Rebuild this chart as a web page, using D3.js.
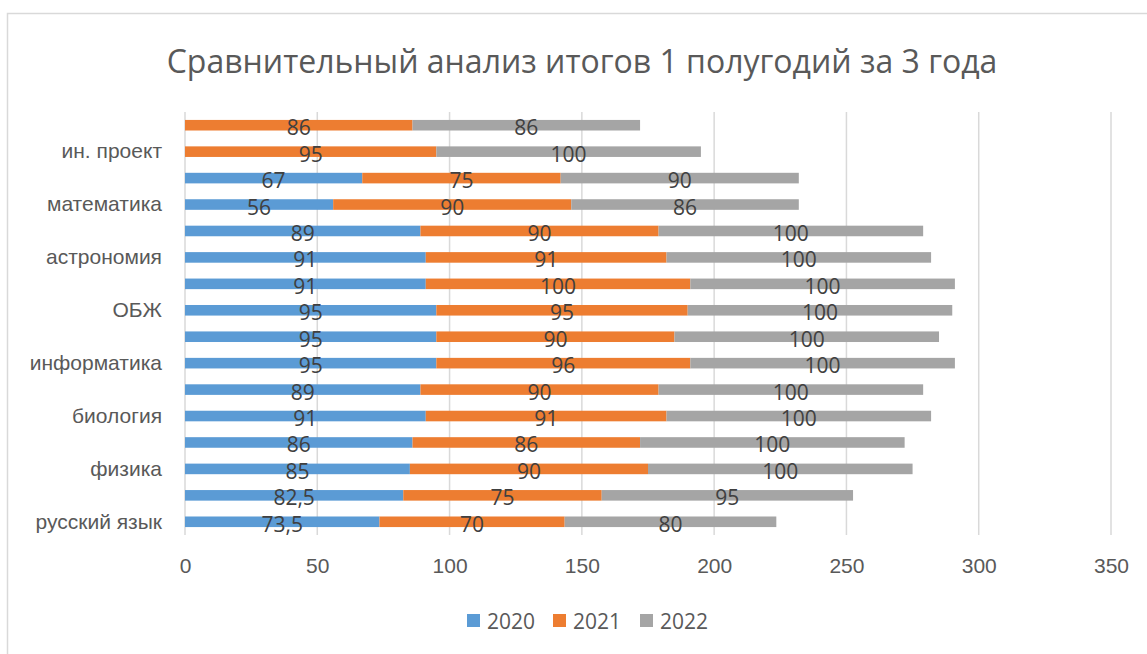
<!DOCTYPE html>
<html>
<head>
<meta charset="utf-8">
<script src="https://cdn.jsdelivr.net/npm/d3@7"></script>
<style>
  body { margin: 0; background: #fff; }
  svg { display: block; font-family: "Open Sans", "Noto Sans", sans-serif; }
</style>
</head>
<body>
<svg id="chart"></svg>
<script>
// categories from bottom to top; Excel only printed every other label
const categories = ["русский язык", "", "физика", "", "биология", "", "информатика", "",
                    "ОБЖ", "", "астрономия", "", "математика", "", "ин. проект", ""];
const years = ["2020", "2021", "2022"];
const values2020 = [73.5, 82.5, 85, 86, 91, 89, 95, 95, 95, 91, 91, 89, 56, 67, null, null];
const values2021 = [70, 75, 90, 86, 91, 90, 96, 90, 95, 100, 91, 90, 90, 75, 95, 86];
const values2022 = [80, 95, 100, 100, 100, 100, 100, 100, 100, 100, 100, 100, 86, 90, 100, 86];
const xTicks = [0, 50, 100, 150, 200, 250, 300, 350];
const title = "Сравнительный анализ итогов 1 полугодий за 3 года";

const colors = ["#5b9bd5", "#ed7d31", "#a5a5a5"];

const W = 1147, H = 654;
const margin = {top: 112, right: 36, bottom: 119, left: 185};
const width = W - margin.left - margin.right;
const height = H - margin.top - margin.bottom;

const svg = d3.select("#chart").attr("width", W).attr("height", H);

// outer chart border (runs off the right and bottom of the screenshot)
svg.append("rect")
    .attr("x", 7.5).attr("y", 13.5)
    .attr("width", W + 20).attr("height", H + 20)
    .attr("fill", "none")
    .attr("stroke", "#d9d9d9")
    .attr("stroke-width", 1.5);

svg.append("text")
    .attr("x", 582)
    .attr("y", 60)
    .attr("text-anchor", "middle")
    .attr("dominant-baseline", "central")
    .attr("fill", "#595959")
    .attr("font-size", 32)
    .text(title);

const chart = svg.append("g")
    .attr("transform", `translate(${margin.left},${margin.top})`);

const xScale = d3.scaleLinear().domain([0, 350]).range([0, width]);
const idx = d3.range(categories.length);
const yScale = d3.scaleBand()
    .domain(idx.slice().reverse())
    .range([0, height])
    .paddingInner(0.6)
    .paddingOuter(0.3);

// gridlines
chart.append("g")
    .selectAll("line")
    .data(xTicks)
    .join("line")
    .attr("x1", d => xScale(d)).attr("x2", d => xScale(d))
    .attr("y1", 0).attr("y2", height)
    .attr("stroke", "#d9d9d9")
    .attr("stroke-width", 1.5);

// x axis
const xAxis = d3.axisBottom(xScale).tickValues(xTicks).tickSize(0).tickPadding(23);
const xAxisG = chart.append("g")
    .attr("transform", `translate(0,${height})`)
    .call(xAxis);
xAxisG.select(".domain").remove();
xAxisG.selectAll("text")
    .attr("font-size", 21)
    .attr("fill", "#595959")
    .attr("font-family", null);

// y axis
const yAxis = d3.axisLeft(yScale).tickSize(0).tickPadding(23).tickFormat(i => categories[i]);
const yAxisG = chart.append("g").call(yAxis);
yAxisG.select(".domain").remove();
yAxisG.selectAll("text")
    .attr("font-size", 21)
    .attr("fill", "#595959")
    .attr("font-family", null);

// stack the three years
const table = idx.map(i => ({i: i, "2020": values2020[i] || 0, "2021": values2021[i] || 0, "2022": values2022[i] || 0}));
const raw = [values2020, values2021, values2022];
const stacked = d3.stack().keys(years)(table);

const marks = chart.append("g");
stacked.forEach((layer, k) => {
  const seg = layer.map((d, i) => ({x0: d[0], x1: d[1], i: i, v: raw[k][i]}))
      .filter(d => d.v != null);
  marks.append("g")
    .selectAll("rect")
    .data(seg)
    .join("rect")
    .attr("x", d => xScale(d.x0))
    .attr("width", d => xScale(d.x1) - xScale(d.x0))
    .attr("y", d => yScale(d.i))
    .attr("height", yScale.bandwidth())
    .attr("fill", colors[k]);
});

// data labels on top of all bars
const fmt = v => String(v).replace(".", ",");
stacked.forEach((layer, k) => {
  const seg = layer.map((d, i) => ({x0: d[0], x1: d[1], i: i, v: raw[k][i]}))
      .filter(d => d.v != null);
  chart.append("g")
    .selectAll("text")
    .data(seg)
    .join("text")
    .attr("x", d => xScale((d.x0 + d.x1) / 2))
    .attr("y", d => yScale(d.i) + yScale.bandwidth() / 2 + 2)
    .attr("text-anchor", "middle")
    .attr("dominant-baseline", "central")
    .attr("font-size", 21)
    .attr("fill", "#404040")
    .text(d => fmt(d.v));
});

// legend
const legend = svg.append("g").attr("transform", "translate(467,614)");
const itemX = [0, 86, 173];
years.forEach((y, k) => {
  const g = legend.append("g").attr("transform", `translate(${itemX[k]},0)`);
  g.append("rect").attr("width", 13).attr("height", 13).attr("fill", colors[k]);
  g.append("text")
    .attr("x", 20).attr("y", 7)
    .attr("dominant-baseline", "central")
    .attr("font-size", 21)
    .attr("fill", "#595959")
    .text(y);
});
</script>
</body>
</html>
